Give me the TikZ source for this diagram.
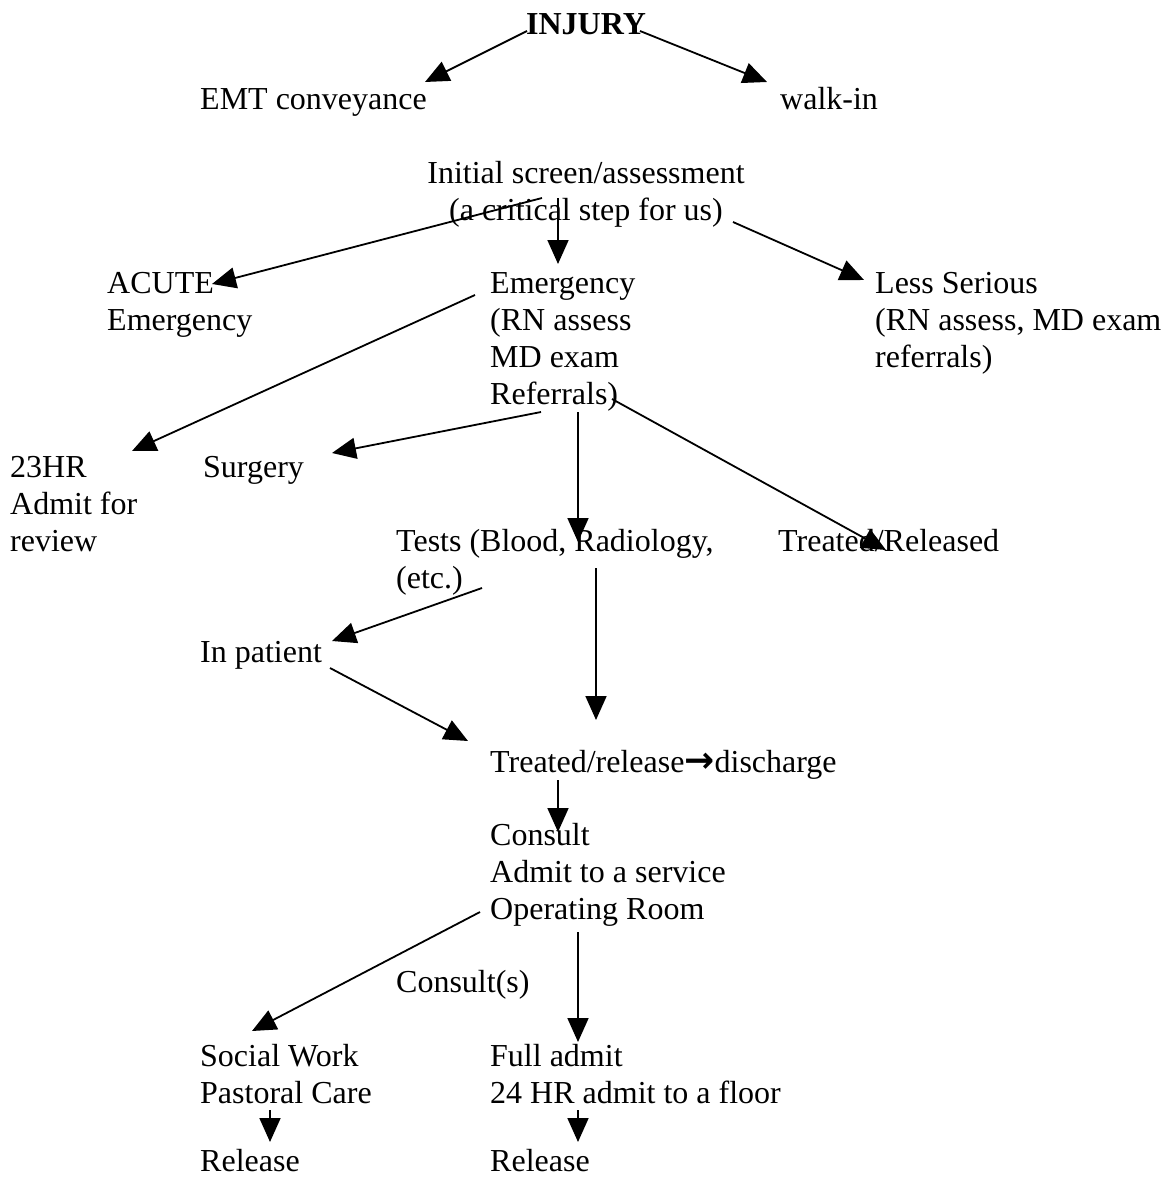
\documentclass[tikz,border=0pt]{standalone}
\usepackage{fontspec}
\setmainfont{Liberation Serif}
\newfontfamily\symfont{DejaVu Sans}
\usetikzlibrary{arrows.meta}
\begin{document}
\begin{tikzpicture}[x=1pt,y=-1pt,
  lbl/.style={anchor=base west,inner sep=0pt,align=left,font=\fontsize{32}{37}\selectfont},
  ctr/.style={anchor=base,inner sep=0pt,align=center,font=\fontsize{32}{37}\selectfont},
  arr/.style={line width=1.8pt,-{Triangle[length=24pt,width=21pt]}}]
\useasboundingbox (0,0) rectangle (1164,1177);
\fill[white] (0,0) rectangle (1164,1177);
% nodes (multi-line nodes are placed by the baseline of their last line)
\node[ctr,font=\fontsize{32}{37}\selectfont\bfseries] (injury) at (586,35) {INJURY};
\node[lbl] (emt) at (200,110) {EMT conveyance};
\node[lbl] (walk) at (780,110) {walk-in};
\node[ctr] (init) at (586,220) {Initial screen/assessment\\(a critical step for us)};
\node[lbl] (acute) at (107,330) {ACUTE\\Emergency};
\node[lbl] (emerg) at (490,404) {Emergency\\(RN assess\\MD exam\\Referrals)};
\node[lbl] (less) at (875,367) {Less Serious\\(RN assess, MD exam\\referrals)};
\node[lbl] (hr23) at (10,551) {23HR\\Admit for\\review};
\node[lbl] (surg) at (203,477) {Surgery};
\node[lbl] (tests) at (396,588) {Tests (Blood, Radiology,\\(etc.)};
\node[lbl] (treatrel) at (778,551) {Treated/Released};
\node[lbl] (inpat) at (200,662) {In patient};
\node[lbl] (discharge) at (490,772) {Treated/release{\symfont\bfseries\fontsize{36}{37}\selectfont →}discharge};
\node[lbl] (consult) at (490,919) {Consult\\Admit to a service\\Operating Room};
\node[lbl] (consults) at (396,992) {Consult(s)};
\node[lbl] (social) at (200,1103) {Social Work\\Pastoral Care};
\node[lbl] (full) at (490,1103) {Full admit\\24 HR admit to a floor};
\node[lbl] (rel1) at (200,1171) {Release};
\node[lbl] (rel2) at (490,1171) {Release};
% connector end points
\coordinate (a1s) at (527,31); \coordinate (a1e) at (425,82);
\coordinate (a2s) at (640,31); \coordinate (a2e) at (767,82);
\coordinate (a3s) at (542,198); \coordinate (a3e) at (212,284);
\coordinate (a4s) at (558,198); \coordinate (a4e) at (558,264);
\coordinate (a5s) at (733,222); \coordinate (a5e) at (864,280);
\coordinate (a6s) at (475,295); \coordinate (a6e) at (132,451);
\coordinate (a7s) at (541,412); \coordinate (a7e) at (332,453);
\coordinate (a8s) at (578,412); \coordinate (a8e) at (578,542);
\coordinate (a9s) at (612,399); \coordinate (a9e) at (886,550);
\coordinate (a10s) at (482,588); \coordinate (a10e) at (332,641);
\coordinate (a11s) at (596,568); \coordinate (a11e) at (596,720);
\coordinate (a12s) at (330,668); \coordinate (a12e) at (468,741);
\coordinate (a13s) at (558,780); \coordinate (a13e) at (558,832);
\coordinate (a14s) at (480,912); \coordinate (a14e) at (252,1031);
\coordinate (a15s) at (578,932); \coordinate (a15e) at (578,1042);
\coordinate (a16s) at (270,1110); \coordinate (a16e) at (270,1142);
\coordinate (a17s) at (578,1110); \coordinate (a17e) at (578,1142);
% connectors
\foreach \i in {1,...,17} \draw[arr] (a\i s) -- (a\i e);
\end{tikzpicture}
\end{document}
